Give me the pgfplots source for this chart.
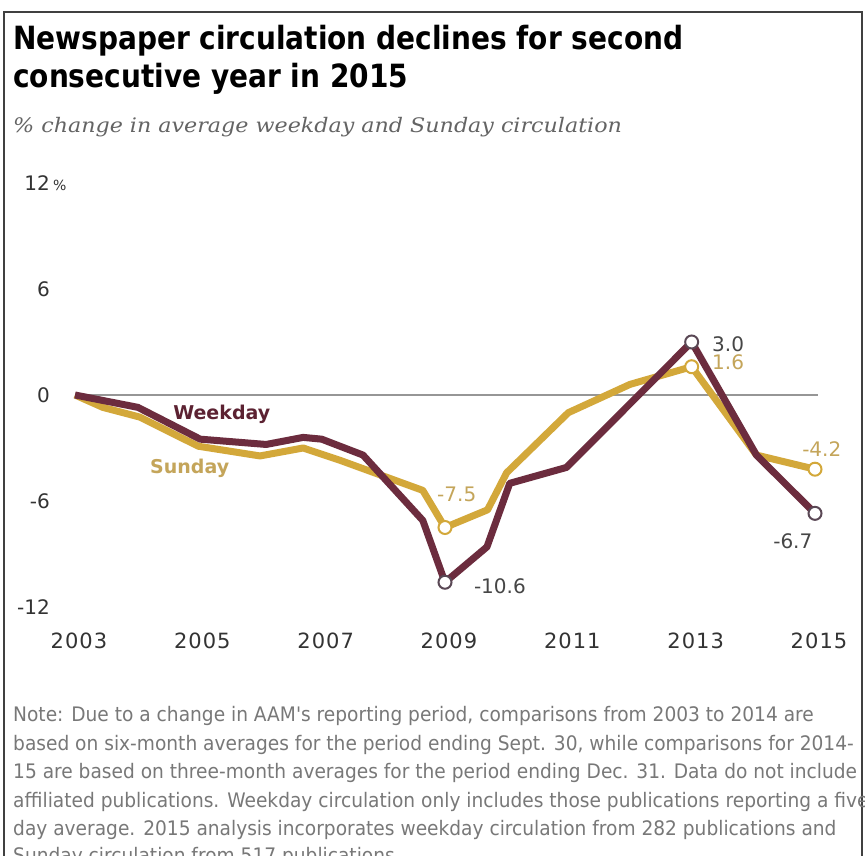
\documentclass[border=0pt]{standalone}
\usepackage{pgfplots}
\pgfplotsset{compat=1.18}
\usepackage{fontspec}
\setmainfont{DejaVu Sans}
\newfontfamily\titlefont[FakeStretch=0.875]{DejaVu Sans}
\newfontfamily\subfont[FakeStretch=1.11]{DejaVu Serif}
\newfontfamily\notefont[FakeStretch=0.93]{DejaVu Sans}
\newfontfamily\tickxfont[LetterSpace=5]{DejaVu Sans}
\definecolor{wk}{RGB}{108,44,62}
\definecolor{wklab}{RGB}{92,34,50}
\definecolor{sun}{RGB}{211,168,58}
\definecolor{sunlab}{RGB}{196,165,90}
\definecolor{tickgray}{RGB}{51,51,51}
\definecolor{numgray}{RGB}{70,70,70}
\definecolor{notegray}{RGB}{120,120,120}
\definecolor{subgray}{RGB}{100,100,100}
\definecolor{zerogray}{RGB}{150,150,150}
\definecolor{wkmark}{RGB}{90,72,85}
\begin{document}
\begin{tikzpicture}
\clip (0pt,0pt) rectangle (865pt,856pt);
\path[fill=white] (0pt,0pt) rectangle (865pt,856pt);
\draw[line width=1.5pt, black!75] (4pt,-20pt) -- (4pt,844pt) -- (862pt,844pt) -- (862pt,-20pt);
% title
\node[anchor=base west, inner sep=0pt] at (13pt,806pt) {\titlefont\bfseries\fontsize{32}{32}\selectfont Newspaper circulation declines for second};
\node[anchor=base west, inner sep=0pt] at (13pt,768pt) {\titlefont\bfseries\fontsize{32}{32}\selectfont consecutive year in 2015};
\node[anchor=base west, inner sep=0pt, text=subgray] at (13pt,723pt) {\subfont\itshape\fontsize{20}{20}\selectfont \% change in average weekday and Sunday circulation};
% note
\begin{scope}[every node/.style={anchor=base west, inner sep=0pt, text=notegray, font=\notefont\fontsize{20}{20}\selectfont}]
\node at (13pt,134pt) {Note: Due to a change in AAM's reporting period, comparisons from 2003 to 2014 are};
\node at (13pt,105pt) {based on six-month averages for the period ending Sept. 30, while comparisons for 2014-};
\node at (13pt,77pt) {15 are based on three-month averages for the period ending Dec. 31. Data do not include};
\node at (13pt,48pt) {affiliated publications. Weekday circulation only includes those publications reporting a five-};
\node at (13pt,20pt) {day average. 2015 analysis incorporates weekday circulation from 282 publications and};
\node at (13pt,-7pt) {Sunday circulation from 517 publications.};
\end{scope}
\begin{axis}[
  at={(75pt,249pt)}, anchor=south west,
  scale only axis, width=740pt, height=424pt,
  xmin=2003, xmax=2015, ymin=-12, ymax=12,
  axis line style={draw=none},
  major tick length=0pt,
  clip=false,
  xtick={2003,2005,2007,2009,2011,2013,2015},
  xticklabels={2003,2005,2007,2009,2011,2013,2015},
  ytick={-12,-6,0,6,12},
  yticklabels={-12,-6,0,6,{12\rlap{\,\fontsize{14}{14}\selectfont\%}}},
  xticklabel style={font=\tickxfont\fontsize{21}{21}\selectfont, text=tickgray, inner sep=0pt, anchor=north, yshift=-26pt, xshift=4pt},
  yticklabel style={font=\fontsize{20}{20}\selectfont, text=tickgray, inner sep=0pt, anchor=east, xshift=-25pt},
]
\addplot[zerogray, line width=2pt] coordinates {(2003,0) (2015.05,0)};
\addplot[sun, line width=7pt, line join=round] coordinates {
(2003,0)(2003.45,-0.7)(2004.05,-1.25)(2005.0,-2.9)(2006.0,-3.45)(2006.7,-3.0)(2007.3,-3.7)(2008.64,-5.4)(2009,-7.5)(2009.69,-6.5)(2010.0,-4.4)(2011,-1.0)(2012,0.6)(2013,1.6)(2014.05,-3.4)(2015,-4.2)};
\addplot[wk, line width=7pt, line join=round] coordinates {
(2003,0)(2004.02,-0.7)(2005.03,-2.5)(2006.1,-2.8)(2006.7,-2.4)(2007.0,-2.5)(2007.67,-3.4)(2008.64,-7.1)(2009,-10.6)(2009.68,-8.6)(2010.05,-5.0)(2010.97,-4.1)(2013,3.0)(2014.05,-3.4)(2015,-6.7)};
\addplot[only marks, mark=*, mark size=6.5pt, mark options={fill=white, draw=sun, line width=2pt}] coordinates {(2009,-7.5)(2013,1.6)(2015,-4.2)};
\addplot[only marks, mark=*, mark size=6.5pt, mark options={fill=white, draw=wkmark, line width=2pt}] coordinates {(2009,-10.6)(2013,3.0)(2015,-6.7)};
\node[anchor=west, inner sep=0pt, text=numgray, font=\fontsize{20}{20}\selectfont] at (axis cs:2013.33,2.9) {3.0};
\node[anchor=west, inner sep=0pt, text=sunlab, font=\fontsize{20}{20}\selectfont] at (axis cs:2013.33,1.85) {1.6};
\node[inner sep=0pt, text=sunlab, font=\fontsize{20}{20}\selectfont] at (axis cs:2015.11,-3.06) {-4.2};
\node[inner sep=0pt, text=numgray, font=\fontsize{20}{20}\selectfont] at (axis cs:2014.64,-8.26) {-6.7};
\node[inner sep=0pt, text=sunlab, font=\fontsize{20}{20}\selectfont] at (axis cs:2009.19,-5.6) {-7.5};
\node[inner sep=0pt, text=numgray, font=\fontsize{20}{20}\selectfont] at (axis cs:2009.89,-10.85) {-10.6};
\node[inner sep=0pt, text=wklab, font=\bfseries\fontsize{19}{19}\selectfont] at (axis cs:2005.38,-1.08) {Weekday};
\node[inner sep=0pt, text=sunlab, font=\bfseries\fontsize{19}{19}\selectfont] at (axis cs:2004.86,-4.13) {Sunday};
\end{axis}
\end{tikzpicture}
\end{document}
